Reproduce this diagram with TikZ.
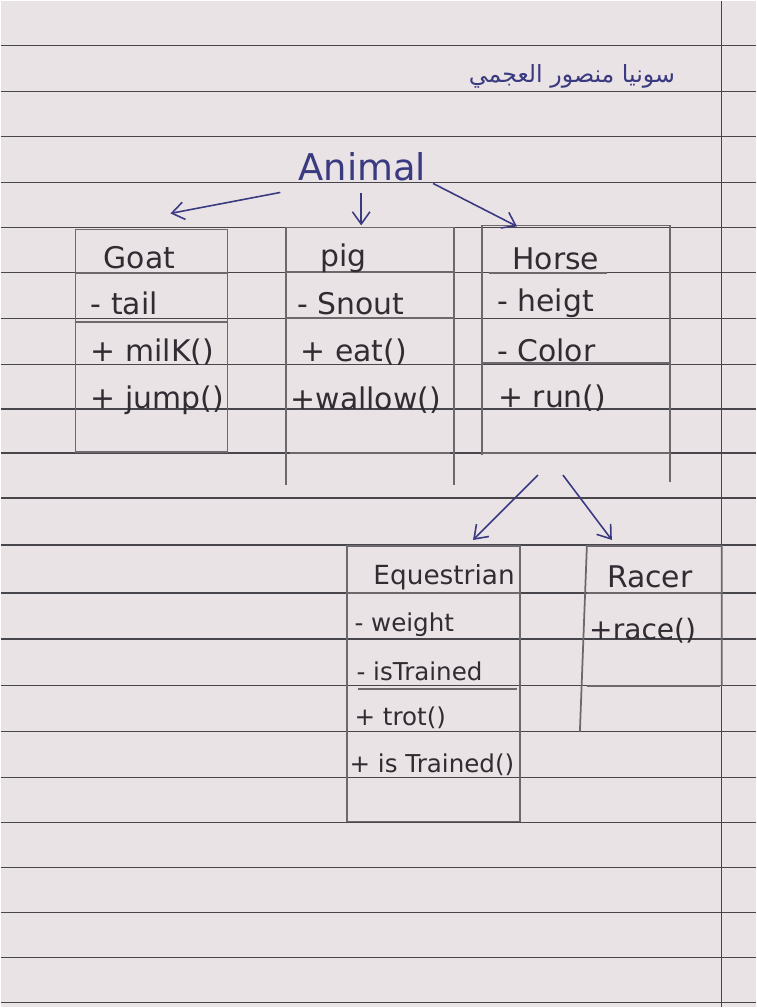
\documentclass[tikz,border=0pt]{standalone}
\usepackage{fontspec}
\setmainfont{DejaVu Sans}
\newfontfamily\arabicfont[Script=Arabic]{DejaVu Sans}
\TeXXeTstate=1
\usetikzlibrary{arrows.meta}
\definecolor{paper}{RGB}{234,227,230}
\definecolor{rule}{RGB}{72,70,74}
\definecolor{pencil}{RGB}{108,104,108}
\definecolor{ink}{RGB}{48,44,50}
\definecolor{blueink}{RGB}{58,58,128}
\tikzset{
	ruled/.style={rule, line width=0.8pt},
	box/.style={pencil, line width=1pt},
	arr/.style={blueink, line width=0.9pt, -{Straight Barb[length=7pt,width=10pt]}},
	txt/.style={ink, font=\fontsize{17}{20}\selectfont, inner sep=0pt, anchor=west},
	small/.style={ink, font=\fontsize{14}{17}\selectfont, inner sep=0pt, anchor=west},
	title/.style={ink, font=\fontsize{17}{20}\selectfont, inner sep=0pt}
}

\begin{document}
\begin{tikzpicture}[x=0.02cm,y=-0.02cm]
		\fill[paper] (0,0) rectangle (756,1008);
		\foreach \y in {45,91,136,182,227,272,318,364,409,453,498,545,593,639,686,732,778,823,868,913,958,1003}
			\draw[ruled] (0,\y) -- (756,\y);
		\draw[ruled] (722,0) -- (722,1008);

		\node[blueink, inner sep=0pt, font=\arabicfont\fontsize{13.5}{16}\selectfont] (name) at (572,76) {\beginR سونيا منصور العجمي\endR};
		\node[blueink, inner sep=0pt, font=\fontsize{21}{24}\selectfont] (animal) at (362,166) {Animal};

		% Goat
		\draw[box] (75,229) rectangle (227,452);
		\draw[box] (75,273) -- (227,273);
		\draw[box] (75,322) -- (227,322);
		\node[title] (goat) at (139,257) {Goat};
		\node[txt] (tail) at (90,303) {- tail};
		\node[txt] (milk) at (90,352) {+ milK()};
		\node[txt] (jump) at (90,400) {+ jump()};

		% pig
		\draw[box] (286,485) -- (286,227) -- (454,227) -- (454,485);
		\draw[box] (286,272) -- (454,272);
		\draw[box] (286,318) -- (454,318);
		\draw[box] (290,453) -- (450,453);
		\node[title] (pig) at (343,258) {pig};
		\node[txt] (snout) at (297,303) {- Snout};
		\node[txt] (eat) at (300,352) {+ eat()};
		\node[txt] (wallow) at (290,400) {+wallow()};

		% Horse
		\draw[box] (482,455) -- (482,225) -- (670,225) -- (670,482);
		\draw[box] (489,273) -- (607,273);
		\draw[box] (482,363) -- (670,363);
		\draw[box] (482,453) -- (670,453);
		\node[title] (horse) at (556,258) {Horse};
		\node[txt] (heigt) at (497,303) {- heigt};
		\node[txt] (color) at (497,350) {- Color};
		\node[txt] (run) at (498,398) {+ run()};

		% Equestrian
		\draw[box] (347,546) rectangle (520,822);
		\draw[box] (347,593) -- (520,593);
		\draw[box] (358,689) -- (517,689);
		\node[title, font=\fontsize{15}{18}\selectfont] (equestrian) at (444,577) {Equestrian};
		\node[small] (weight) at (354,625) {- weight};
		\node[small] (istrained) at (356,672) {- isTrained};
		\node[small] (trot) at (354,718) {+ trot()};
		\node[small] (istrainedm) at (349,765) {+ is Trained()};

		% Racer
		\draw[box] (580,732) -- (587,546) -- (722,546) -- (722,686);
		\draw[box] (587,593) -- (722,593);
		\draw[box] (587,686) -- (720,686);
		\node[title] (racer) at (650,577) {Racer};
		\node[txt, font=\fontsize{16}{19}\selectfont] (race) at (589,631) {+race()};

		\coordinate (a goat) at (280,192);
		\coordinate (a pig) at (361,193);
		\coordinate (a horse) at (433,183);
		\coordinate (goat top) at (170,213);
		\coordinate (pig top) at (361,225);
		\coordinate (horse top) at (517,226);
		\draw[arr] (a goat) -- (goat top);
		\draw[arr] (a pig) -- (pig top);
		\draw[arr] (a horse) -- (horse top);

		\coordinate (h left) at (538,475);
		\coordinate (h right) at (563,475);
		\coordinate (equestrian top) at (473,540);
		\coordinate (racer top) at (612,540);
		\draw[arr] (h left) -- (equestrian top);
		\draw[arr] (h right) -- (racer top);
	\end{tikzpicture}
\end{document}
